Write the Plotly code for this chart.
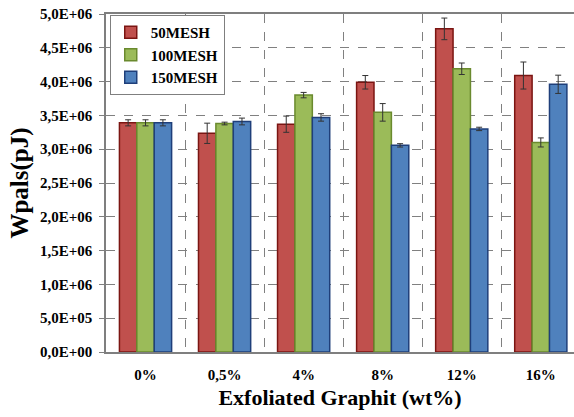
import plotly.graph_objects as go

categories = ["0%", "0,5%", "4%", "8%", "12%", "16%"]
series_names = ["50MESH", "100MESH", "150MESH"]
mesh50 = [3.39e6, 3.235e6, 3.37e6, 3.99e6, 4.78e6, 4.09e6]
mesh50_err = [0.045e6, 0.15e6, 0.12e6, 0.10e6, 0.16e6, 0.20e6]
mesh100 = [3.39e6, 3.38e6, 3.80e6, 3.545e6, 4.19e6, 3.10e6]
mesh100_err = [0.045e6, 0.02e6, 0.04e6, 0.13e6, 0.085e6, 0.067e6]
mesh150 = [3.39e6, 3.41e6, 3.47e6, 3.057e6, 3.30e6, 3.96e6]
mesh150_err = [0.045e6, 0.05e6, 0.055e6, 0.025e6, 0.025e6, 0.135e6]
ytick_vals = [0, 0.5e6, 1.0e6, 1.5e6, 2.0e6, 2.5e6, 3.0e6, 3.5e6, 4.0e6, 4.5e6, 5.0e6]
ytick_text = ["0,0E+00", "5,0E+05", "1,0E+06", "1,5E+06", "2,0E+06", "2,5E+06",
              "3,0E+06", "3,5E+06", "4,0E+06", "4,5E+06", "5,0E+06"]

fills = ["#C0504D", "#9BBB59", "#4F81BD"]
edges = ["#7B1512", "#6A8A2E", "#1F3F7A"]
values = [mesh50, mesh100, mesh150]
errs = [mesh50_err, mesh100_err, mesh150_err]

font_family = "Liberation Serif, Times New Roman, serif"

fig = go.Figure()
for name, vals, err, fc, ec in zip(series_names, values, errs, fills, edges):
    fig.add_trace(go.Bar(
        x=categories, y=vals, name=f"<b>{name}</b>",
        marker=dict(color=fc, line=dict(color=ec, width=1.5)),
        error_y=dict(type="data", array=err, visible=True,
                     color="#333333", thickness=1, width=3),
    ))

# vertical grid lines between categories, via an overlay linear axis
fig.add_trace(go.Scatter(x=[0], y=[0], xaxis="x2", mode="markers",
                         marker=dict(opacity=0), showlegend=False, hoverinfo="skip"))

ncat = len(categories)
x_range = [-0.5, ncat - 0.58]

fig.update_layout(
    width=574, height=417,
    margin=dict(l=106, r=0, t=14, b=65),
    paper_bgcolor="white", plot_bgcolor="white",
    barmode="group", bargap=0.34, bargroupgap=0,
    font=dict(family=font_family, color="black"),
    showlegend=True,
    legend=dict(x=0.008, y=0.997, xanchor="left", yanchor="top",
                bgcolor="white", bordercolor="#7F7F7F", borderwidth=1,
                font=dict(family=font_family, size=15, color="black"),
                tracegroupgap=0, itemwidth=30),
    xaxis=dict(
        type="category", range=x_range, automargin=False,
        showgrid=False, showline=True, linecolor="#7F7F7F", linewidth=1.5,
        mirror=True, ticks="", zeroline=False, ticklabelstandoff=8,
        tickprefix="<b>", ticksuffix="</b>",
        tickfont=dict(family=font_family, size=15, color="black"),
        title=dict(text="<b>Exfoliated Graphit (wt%)</b>",
                   font=dict(family=font_family, size=22, color="black"),
                   standoff=8),
    ),
    xaxis2=dict(
        overlaying="x", range=x_range, type="linear", automargin=False,
        tickvals=[i + 0.5 for i in range(ncat - 1)],
        showticklabels=False, ticks="",
        showgrid=True, gridcolor="#808080", griddash="dash", gridwidth=1,
        zeroline=False, showline=False,
    ),
    yaxis=dict(
        range=[0, 5.0e6], tickvals=ytick_vals, ticktext=[f"<b>{t}</b>" for t in ytick_text],
        automargin=False,
        showgrid=True, gridcolor="#808080", griddash="dash", gridwidth=1,
        showline=True, linecolor="#7F7F7F", linewidth=1.5,
        ticks="outside", ticklen=5, tickcolor="#7F7F7F", ticklabelstandoff=4,
        zeroline=False,
        tickfont=dict(family=font_family, size=15, color="black"),
        title=dict(text="<b>Wpals(pJ)</b>",
                   font=dict(family=font_family, size=25, color="black"),
                   standoff=4),
    ),
)

fig.write_html("out.html", config={"displayModeBar": False},
               post_script="document.body.style.margin='0';")
